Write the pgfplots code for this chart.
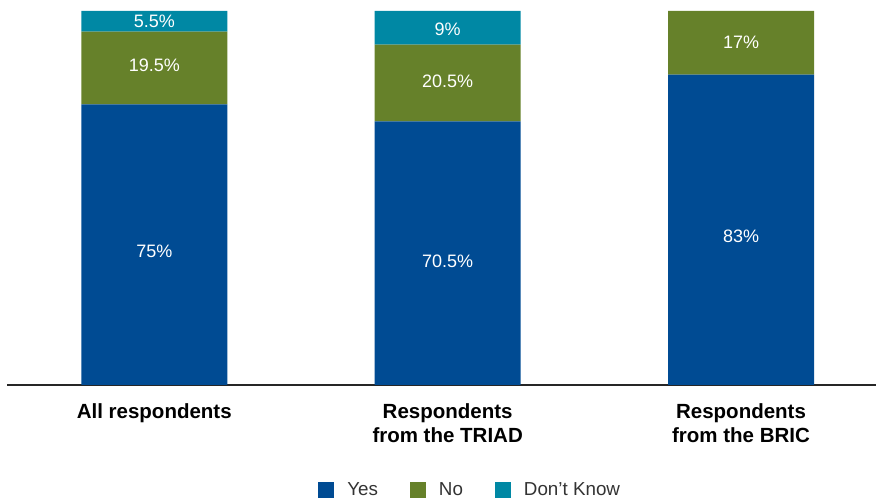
\documentclass[border=0pt]{standalone}
\usepackage{pgfplots}
\pgfplotsset{compat=1.18}
\usepackage{fontspec}
\setmainfont{Liberation Sans}
\definecolor{cYes}{RGB}{0,75,147}
\definecolor{cNo}{RGB}{102,129,42}
\definecolor{cDK}{RGB}{0,136,164}
\definecolor{txt}{RGB}{51,51,51}
\pgfplotsset{sq legend/.style={legend image code/.code={\fill[##1] (0pt,-8pt) rectangle (16pt,8pt);}}}
\tikzset{lbl/.style={text=white, font=\fontsize{18}{20}\selectfont}}
\begin{document}
\begin{tikzpicture}[x=1pt,y=1pt]
\useasboundingbox (0,0) rectangle (876,502);
\begin{axis}[
  at={(7pt,117pt)}, anchor=south west,
  scale only axis, width=869pt, height=374pt,
  ybar stacked, bar width=146pt,
  xmin=-0.502, xmax=2.46, ymin=0, ymax=100,
  axis y line=none, axis x line*=bottom,
  x axis line style={line width=1.5pt, black!85},
  xtick={0,1,2}, major tick length=0,
  xticklabels={All respondents, {Respondents\\from the TRIAD}, {Respondents\\from the BRIC}},
  xticklabel style={align=center, font=\fontsize{20.5}{24}\selectfont\bfseries, text=black, yshift=-15pt},
  legend columns=-1,
  legend style={at={(0.533,-0.281)}, anchor=center, draw=none, fill=none,
    font=\fontsize{18.8}{20}\selectfont, text=txt,
    /tikz/every even column/.append style={column sep=30pt},
    nodes={inner sep=2pt}},
  clip=false,
]
\addplot[fill=cYes, draw=none, sq legend] coordinates {(0,75) (1,70.5) (2,83)};
\addplot[fill=cNo, draw=none, sq legend] coordinates {(0,19.5) (1,20.5) (2,17)};
\addplot[fill=cDK, draw=none, sq legend] coordinates {(0,5.5) (1,9) (2,0)};
\legend{\hspace{11pt}Yes, \hspace{11pt}No, \hspace{11pt}Don’t Know}
\coordinate (l1) at (axis cs:0,35.8);
\coordinate (l2) at (axis cs:1,33.2);
\coordinate (l3) at (axis cs:2,39.8);
\coordinate (l4) at (axis cs:0,85.6);
\coordinate (l5) at (axis cs:1,81.3);
\coordinate (l6) at (axis cs:2,91.7);
\coordinate (l7) at (axis cs:0,97.3);
\coordinate (l8) at (axis cs:1,95.2);
\end{axis}
\node[lbl] at (l1) {75\%};
\node[lbl] at (l2) {70.5\%};
\node[lbl] at (l3) {83\%};
\node[lbl] at (l4) {19.5\%};
\node[lbl] at (l5) {20.5\%};
\node[lbl] at (l6) {17\%};
\node[lbl] at (l7) {5.5\%};
\node[lbl] at (l8) {9\%};
\end{tikzpicture}
\end{document}
